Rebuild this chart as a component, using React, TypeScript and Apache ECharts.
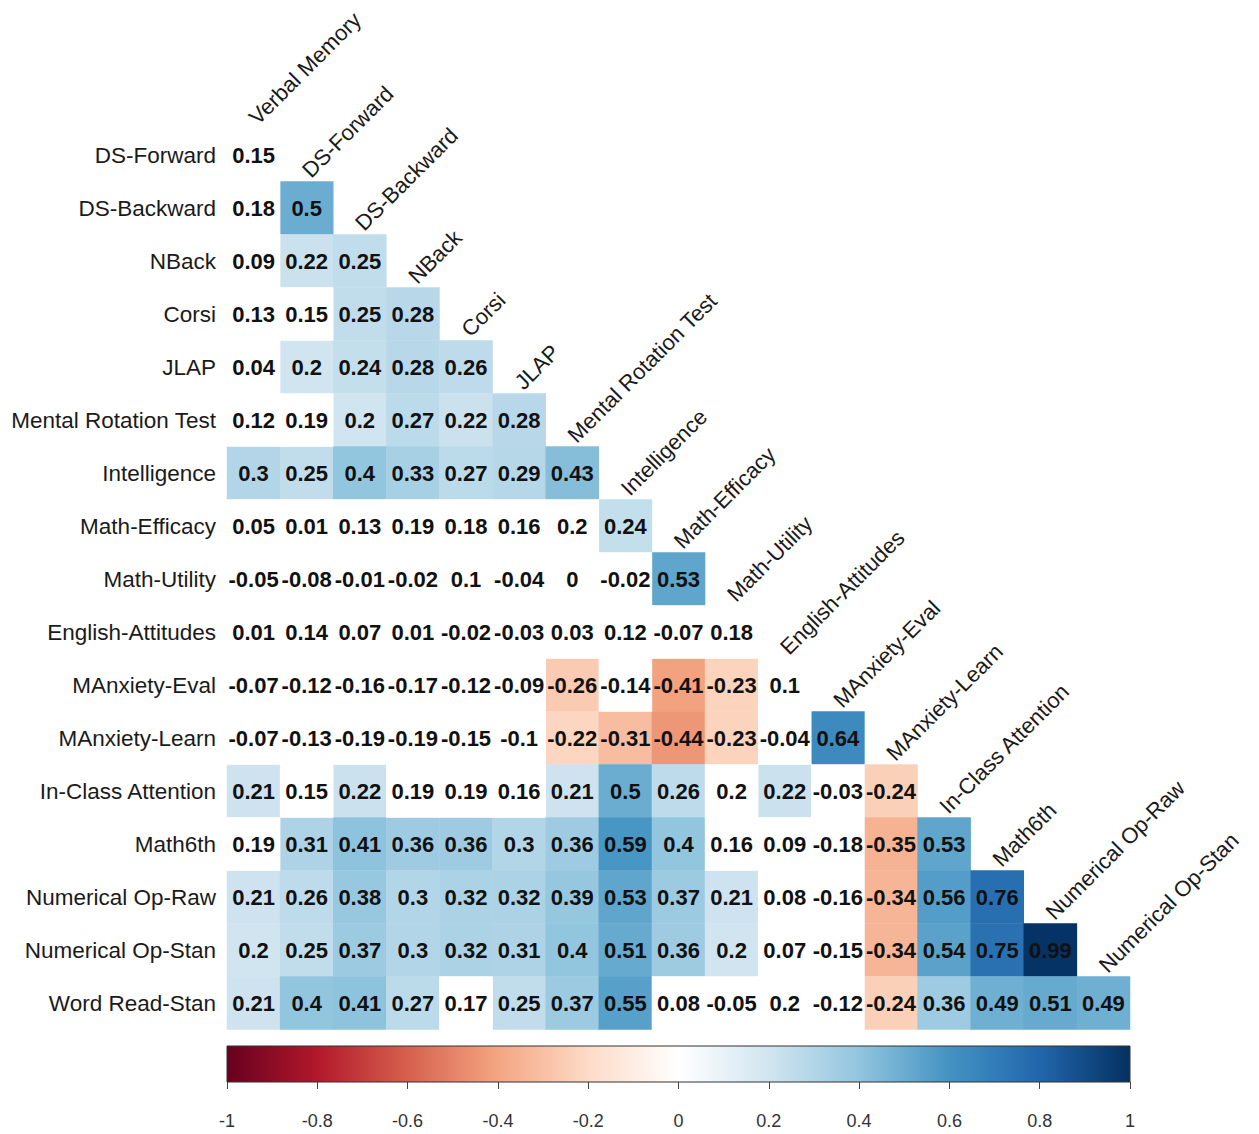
import React, { useEffect, useRef } from "react";
import * as echarts from "echarts";

// Variables on the vertical axis (rows) and along the diagonal (columns)
const rowNames = [
  "DS-Forward",
  "DS-Backward",
  "NBack",
  "Corsi",
  "JLAP",
  "Mental Rotation Test",
  "Intelligence",
  "Math-Efficacy",
  "Math-Utility",
  "English-Attitudes",
  "MAnxiety-Eval",
  "MAnxiety-Learn",
  "In-Class Attention",
  "Math6th",
  "Numerical Op-Raw",
  "Numerical Op-Stan",
  "Word Read-Stan",
];

const colNames = [
  "Verbal Memory",
  "DS-Forward",
  "DS-Backward",
  "NBack",
  "Corsi",
  "JLAP",
  "Mental Rotation Test",
  "Intelligence",
  "Math-Efficacy",
  "Math-Utility",
  "English-Attitudes",
  "MAnxiety-Eval",
  "MAnxiety-Learn",
  "In-Class Attention",
  "Math6th",
  "Numerical Op-Raw",
  "Numerical Op-Stan",
];

// Lower-triangle correlation coefficients, one array per row
const rDSForward = [0.15];
const rDSBackward = [0.18, 0.5];
const rNBack = [0.09, 0.22, 0.25];
const rCorsi = [0.13, 0.15, 0.25, 0.28];
const rJLAP = [0.04, 0.2, 0.24, 0.28, 0.26];
const rMentalRotation = [0.12, 0.19, 0.2, 0.27, 0.22, 0.28];
const rIntelligence = [0.3, 0.25, 0.4, 0.33, 0.27, 0.29, 0.43];
const rMathEfficacy = [0.05, 0.01, 0.13, 0.19, 0.18, 0.16, 0.2, 0.24];
const rMathUtility = [-0.05, -0.08, -0.01, -0.02, 0.1, -0.04, 0, -0.02, 0.53];
const rEnglishAttitudes = [0.01, 0.14, 0.07, 0.01, -0.02, -0.03, 0.03, 0.12, -0.07, 0.18];
const rMAnxietyEval = [-0.07, -0.12, -0.16, -0.17, -0.12, -0.09, -0.26, -0.14, -0.41, -0.23, 0.1];
const rMAnxietyLearn = [-0.07, -0.13, -0.19, -0.19, -0.15, -0.1, -0.22, -0.31, -0.44, -0.23, -0.04, 0.64];
const rInClassAttention = [0.21, 0.15, 0.22, 0.19, 0.19, 0.16, 0.21, 0.5, 0.26, 0.2, 0.22, -0.03, -0.24];
const rMath6th = [0.19, 0.31, 0.41, 0.36, 0.36, 0.3, 0.36, 0.59, 0.4, 0.16, 0.09, -0.18, -0.35, 0.53];
const rNumOpRaw = [0.21, 0.26, 0.38, 0.3, 0.32, 0.32, 0.39, 0.53, 0.37, 0.21, 0.08, -0.16, -0.34, 0.56, 0.76];
const rNumOpStan = [0.2, 0.25, 0.37, 0.3, 0.32, 0.31, 0.4, 0.51, 0.36, 0.2, 0.07, -0.15, -0.34, 0.54, 0.75, 0.99];
const rWordReadStan = [0.21, 0.4, 0.41, 0.27, 0.17, 0.25, 0.37, 0.55, 0.08, -0.05, 0.2, -0.12, -0.24, 0.36, 0.49, 0.51, 0.49];

const correlations = [
  rDSForward, rDSBackward, rNBack, rCorsi, rJLAP, rMentalRotation, rIntelligence,
  rMathEfficacy, rMathUtility, rEnglishAttitudes, rMAnxietyEval, rMAnxietyLearn,
  rInClassAttention, rMath6th, rNumOpRaw, rNumOpStan, rWordReadStan,
];

// 1 = significant (cell is coloured), 0 = not significant (cell left blank)
const sDSForward = [0];
const sDSBackward = [0, 1];
const sNBack = [0, 1, 1];
const sCorsi = [0, 0, 1, 1];
const sJLAP = [0, 1, 1, 1, 1];
const sMentalRotation = [0, 0, 1, 1, 1, 1];
const sIntelligence = [1, 1, 1, 1, 1, 1, 1];
const sMathEfficacy = [0, 0, 0, 0, 0, 0, 0, 1];
const sMathUtility = [0, 0, 0, 0, 0, 0, 0, 0, 1];
const sEnglishAttitudes = [0, 0, 0, 0, 0, 0, 0, 0, 0, 0];
const sMAnxietyEval = [0, 0, 0, 0, 0, 0, 1, 0, 1, 1, 0];
const sMAnxietyLearn = [0, 0, 0, 0, 0, 0, 1, 1, 1, 1, 0, 1];
const sInClassAttention = [1, 0, 1, 0, 0, 0, 1, 1, 1, 0, 1, 0, 1];
const sMath6th = [0, 1, 1, 1, 1, 1, 1, 1, 1, 0, 0, 0, 1, 1];
const sNumOpRaw = [1, 1, 1, 1, 1, 1, 1, 1, 1, 1, 0, 0, 1, 1, 1];
const sNumOpStan = [1, 1, 1, 1, 1, 1, 1, 1, 1, 1, 0, 0, 1, 1, 1, 1];
const sWordReadStan = [1, 1, 1, 1, 0, 1, 1, 1, 0, 0, 0, 0, 1, 1, 1, 1, 1];

const significant = [
  sDSForward, sDSBackward, sNBack, sCorsi, sJLAP, sMentalRotation, sIntelligence,
  sMathEfficacy, sMathUtility, sEnglishAttitudes, sMAnxietyEval, sMAnxietyLearn,
  sInClassAttention, sMath6th, sNumOpRaw, sNumOpStan, sWordReadStan,
];

// Diverging red-white-blue palette from -1 to 1
const palette = [
  "#67001F", "#B2182B", "#D6604D", "#F4A582", "#FDDBC7", "#FFFFFF",
  "#D1E5F0", "#92C5DE", "#4393C3", "#2166AC", "#053061",
];

const FONT = "'Liberation Sans', Arial, Helvetica, sans-serif";

export default function App() {
  const ref = useRef<HTMLDivElement>(null);

  useEffect(() => {
    if (!ref.current) return;
    const chart = echarts.init(ref.current, null, { renderer: "svg" });

    const sigCells: number[][] = [];
    const plainCells: number[][] = [];
    correlations.forEach((row, i) => {
      row.forEach((v, j) => {
        (significant[i][j] ? sigCells : plainCells).push([j, i, v]);
      });
    });

    const cellLabel = {
      show: true,
      formatter: (p: any) => String(p.value[2]),
      fontSize: 22,
      fontWeight: "bold" as const,
      color: "#111111",
      fontFamily: FONT,
    };

    const colLabelData = colNames.map((_, j) => [j, j]);

    const option: any = {
      animation: false,
      backgroundColor: "#ffffff",
      grid: [
        { left: 227, top: 128.5, width: 903, height: 901 },
        { left: 227, top: 1046, width: 903, height: 36 },
      ],
      xAxis: [
        { type: "category", data: colNames, gridIndex: 0, show: false },
        {
          type: "value",
          gridIndex: 1,
          min: -1,
          max: 1,
          interval: 0.2,
          axisLine: { show: false },
          splitLine: { show: false },
          axisTick: { show: true, length: 7, lineStyle: { color: "#444444", width: 1 } },
          axisLabel: {
            margin: 30,
            fontSize: 18,
            color: "#333333",
            fontFamily: FONT,
            formatter: (v: number) => String(Math.round(v * 10) / 10),
          },
        },
      ],
      yAxis: [
        {
          type: "category",
          data: rowNames,
          gridIndex: 0,
          inverse: true,
          axisLine: { show: false },
          axisTick: { show: false },
          splitLine: { show: false },
          axisLabel: {
            fontSize: 22.5,
            color: "#1a1a1a",
            margin: 11,
            fontFamily: FONT,
          },
        },
        { type: "value", gridIndex: 1, min: 0, max: 1, show: false },
      ],
      visualMap: [
        {
          show: false,
          type: "continuous",
          min: -1,
          max: 1,
          dimension: 2,
          seriesIndex: 0,
          inRange: { color: palette },
        },
        {
          // non-significant cells stay blank
          show: false,
          type: "continuous",
          min: -1,
          max: 1,
          dimension: 2,
          seriesIndex: 1,
          inRange: { color: ["#ffffff", "#ffffff"] },
        },
      ],
      series: [
        {
          type: "heatmap",
          xAxisIndex: 0,
          yAxisIndex: 0,
          data: sigCells,
          label: cellLabel,
          emphasis: { disabled: true },
        },
        {
          type: "heatmap",
          xAxisIndex: 0,
          yAxisIndex: 0,
          data: plainCells,
          label: cellLabel,
          emphasis: { disabled: true },
        },
        {
          // diagonal column titles
          type: "custom",
          xAxisIndex: 0,
          yAxisIndex: 0,
          clip: false,
          z: 5,
          data: colLabelData,
          renderItem: (params: any, api: any) => {
            const p = api.coord([api.value(0), api.value(1)]);
            const size = api.size([1, 1]);
            const top = p[1] - size[1] / 2;
            return {
              type: "text",
              x: p[0] + 7,
              y: top,
              rotation: Math.PI / 4,
              style: {
                text: colNames[params.dataIndex],
                x: 0,
                y: 0,
                align: "left",
                verticalAlign: "bottom",
                fontSize: 22,
                fontFamily: FONT,
                fill: "#1a1a1a",
              },
            };
          },
        },
        {
          // colour bar
          type: "custom",
          xAxisIndex: 1,
          yAxisIndex: 1,
          clip: false,
          data: [[-1, 1, 1, 0]],
          renderItem: (_params: any, api: any) => {
            const a = api.coord([api.value(0), api.value(2)]);
            const b = api.coord([api.value(1), api.value(3)]);
            const stops = palette.map((c, i) => ({ offset: i / (palette.length - 1), color: c }));
            return {
              type: "rect",
              shape: { x: a[0], y: a[1], width: b[0] - a[0], height: b[1] - a[1] },
              style: {
                fill: new echarts.graphic.LinearGradient(0, 0, 1, 0, stops),
                stroke: "#333333",
                lineWidth: 1,
              },
            };
          },
        },
      ],
    };

    chart.setOption(option);
    return () => chart.dispose();
  }, []);

  return (
    <div
      ref={ref}
      style={{ position: "fixed", left: 0, top: 0, width: 1259, height: 1134, background: "#fff" }}
    />
  );
}
